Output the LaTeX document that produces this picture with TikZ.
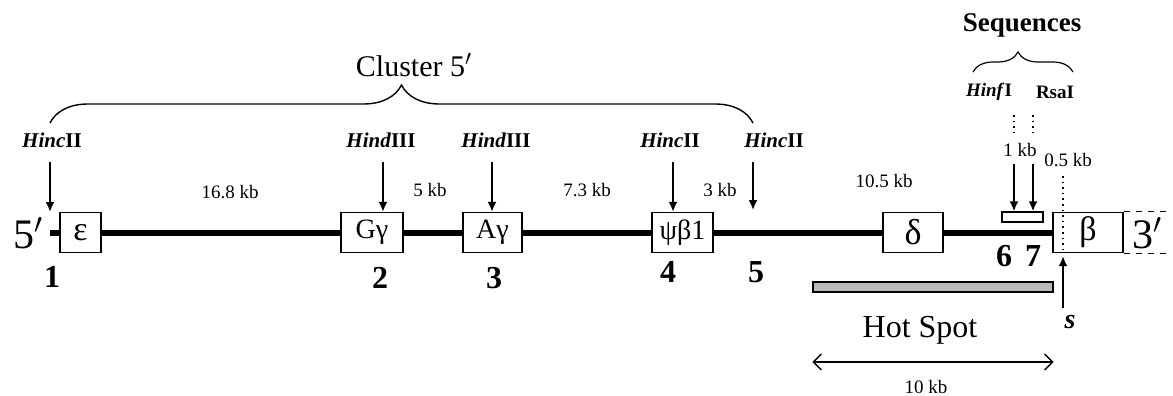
\documentclass[tikz,border=0pt]{standalone}
\usepackage{fontspec}
\setmainfont{Liberation Serif}
\usetikzlibrary{arrows.meta,calc,positioning,decorations.pathreplacing}
\tikzset{%
gene/.style={draw, line width=0.7pt, fill=white, minimum height=20pt, inner sep=0pt,
  font=\fontsize{14}{14}\selectfont},
site/.style={-{Latex[length=5pt,width=4.5pt]}, line width=0.9pt},
dna/.style={line width=3pt},
enz/.style={font=\fontsize{10.5}{10.5}\selectfont\bfseries},
dist/.style={font=\fontsize{9.5}{9.5}\selectfont},
num/.style={font=\fontsize{16}{16}\selectfont\bfseries},
end/.style={font=\fontsize{21}{21}\selectfont},
}

\begin{document}
\begin{tikzpicture}[x=0.5pt,y=-0.5pt]
\useasboundingbox (0,0) rectangle (1173,396);

% genes on the chromosome
\node[gene, minimum width=20.5pt, font=\fontsize{17}{17}\selectfont] (eps) at (80.5,232.5) {ε};
\node[gene, minimum width=31pt] (Ggam) at (372,232.5) {Gγ};
\node[gene, minimum width=29.5pt] (Agam) at (492.5,232.5) {Aγ};
\node[gene, minimum width=30.5pt] (psi) at (682.5,232.5) {ψβ1};
\node[gene, minimum width=30pt, font=\fontsize{18}{18}\selectfont] (delta) at (913,232.5) {δ};
\node[gene, minimum width=35pt, font=\fontsize{17}{17}\selectfont] (beta) at (1088,232.5) {β};
\node[draw, line width=0.7pt, minimum width=20.5pt, minimum height=5pt, inner sep=0pt] (seqbox) at (1022.5,217) {};

\coordinate (start) at (50,232.5);
\draw[dna] (start) -- (eps) -- (Ggam) -- (Agam) -- (psi) -- (delta) -- (beta);

\draw[dashed, thin] (beta.north east) -- ++(47,0);
\draw[dashed, thin] (beta.south east) -- ++(47,0);
\node[end] (five) at (28,233) {5$'$};
\node[end] (three) at (1147,233) {3$'$};

% restriction sites
\node[enz] (h1) at (52,140) {\textit{Hinc}II};
\node[enz] (h2) at (381,140) {\textit{Hind}III};
\node[enz] (h3) at (496,140) {\textit{Hind}III};
\node[enz] (h4) at (670,140) {\textit{Hinc}II};
\node[enz] (h5) at (774,140) {\textit{Hinc}II};
\coordinate (c1) at (50,212);
\coordinate (c2) at (383,0);
\coordinate (c3) at (492,0);
\coordinate (c4) at (673,0);
\coordinate (c5) at (753,210);
\draw[site, shorten <=4pt] (h1.south -| c1) -- (c1);
\draw[site, shorten <=4pt] (h2.south -| c2) -- (Ggam.north -| c2);
\draw[site, shorten <=4pt] (h3.south -| c3) -- (Agam.north -| c3);
\draw[site, shorten <=4pt] (h4.south -| c4) -- (Agam.north -| c4);
\draw[site, shorten <=4pt] (h5.south -| c5) -- (c5);

% distances
\node[dist] (d1) at (230,192) {16.8 kb};
\node[dist] (d2) at (430,190) {5 kb};
\node[dist] (d3) at (587,190) {7.3 kb};
\node[dist] (d4) at (720,190) {3 kb};
\node[dist] (d5) at (884,181) {10.5 kb};

% fragment numbers
\node[num] (n1) at (52,277) {1};
\node[num] (n2) at (380,278) {2};
\node[num] (n3) at (494,278) {3};
\node[num] (n4) at (668,272) {4};
\node[num] (n5) at (756,272) {5};
\node[num] (n6) at (1004,256) {6};
\node[num] (n7) at (1033,256) {7};

\draw[decorate, decoration={brace, amplitude=19pt}, line width=0.7pt] (50,123) -- (753,123);
\node[font=\fontsize{15}{15}\selectfont] (clu) at (414,65) {Cluster 5$'$};

% sequenced region
\node[font=\fontsize{13.5}{13.5}\selectfont\bfseries] (seq) at (1022,25) {Sequences};
\draw[decorate, decoration={brace, amplitude=10pt, aspect=0.45}, line width=0.6pt] (973,72) -- (1073,72);
\node[enz, font=\fontsize{9.5}{9.5}\selectfont\bfseries] (hinf) at (989,92) {\textit{Hinf}I};
\node[enz, font=\fontsize{9.5}{9.5}\selectfont\bfseries] (rsa) at (1055,92) {RsaI};
\coordinate (k1) at (1014,115);
\coordinate (k2) at (1033,115);
\draw[dotted, thick] (k1) -- ++(0,17);
\draw[dotted, thick] (k2) -- ++(0,17);
\node[dist] (kb1) at (1020,150) {1 kb};
\node[dist] (kb05) at (1068,160) {0.5 kb};
\draw[site] (kb1.south -| k1) -- (seqbox.north -| k1);
\draw[site] (kb1.south -| k2) -- (seqbox.north -| k2);
\coordinate (sx) at (1063,176);
\draw[dotted, thick] (sx) -- (beta.south -| sx);
\node[font=\fontsize{14}{14}\selectfont\bfseries\itshape] (s) at (1070,322) {s};
\draw[site, shorten >=1.5pt] (s.north -| sx) -- (beta.south -| sx);

% hot spot
\node[draw, line width=0.7pt, fill=gray!55, minimum width=120pt, minimum height=5pt, inner sep=0pt] (hot) at (933,287) {};
\node[font=\fontsize{16}{16}\selectfont] (hs) at (920,330) {Hot Spot};
\draw[{Straight Barb[length=4pt,width=8pt]}-{Straight Barb[length=4pt,width=8pt]}, line width=0.7pt] (hot.west |- 0,362) -- (hot.east |- 0,362);
\node[dist] (kb10) at (926,387) {10 kb};

\end{tikzpicture}
\end{document}
